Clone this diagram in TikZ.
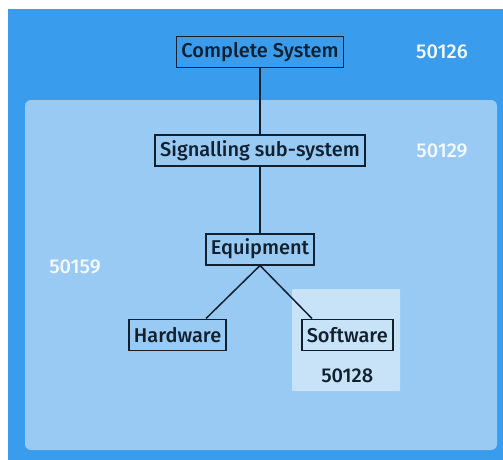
\documentclass[tikz,border=0pt]{standalone}
\usepackage{fontspec}
\setmainfont{Fira Sans}[BoldFont={Fira Sans Medium}]
\usetikzlibrary{positioning}
\definecolor{outerblue}{HTML}{3A9CEC}
\definecolor{innerblue}{HTML}{98CAF3}
\definecolor{swblue}{HTML}{C8E2F8}
\definecolor{inkdark}{HTML}{10202F}
\tikzset{
  base/.style={font=\fontsize{20}{22}\selectfont\bfseries, text=inkdark, align=center},
  item/.style={rectangle, draw=inkdark, line width=1.6pt, minimum height=31pt, inner xsep=5pt, inner ysep=2pt, base},
  code/.style={base, text=white!94!outerblue},
  link/.style={draw=inkdark, line width=1.5pt}
}

\begin{document}
\begin{tikzpicture}[x=1pt, y=1pt, node distance=66pt]
    \useasboundingbox (0,0) rectangle (503,-460);
    % nested areas
    \fill[outerblue] (8,-9) rectangle (503,-460);
    \fill[innerblue, rounded corners=6pt] (25,-100) rectangle (497,-450);
    \fill[swblue, rounded corners=1pt] (292,-289) rectangle (400,-391);

    \node[item] (system) at (260,-52) {Complete System};
    \node[item, below=of system] (signal) {Signalling sub-system};
    \node[item, below=of signal] (equip) {Equipment};
    \node[item, below left=53pt and -22pt of equip] (hw) {Hardware};
    \node[item, below right=53pt and -14pt of equip] (sw) {Software};

    \node[code] (c126) at (442,-52) {50126};
    \node[code] (c129) at (442,-151) {50129};
    \node[code] (c159) at (75,-267) {50159};
    \node[base, below=14pt of sw] (c128) {50128};

    \draw[link] (system) -- (signal);
    \draw[link] (signal) -- (equip);
    \draw[link] (equip.south) -- ([xshift=-21pt]hw.north east);
    \draw[link] (equip.south) -- ([xshift=11pt]sw.north west);
  \end{tikzpicture}
\end{document}
